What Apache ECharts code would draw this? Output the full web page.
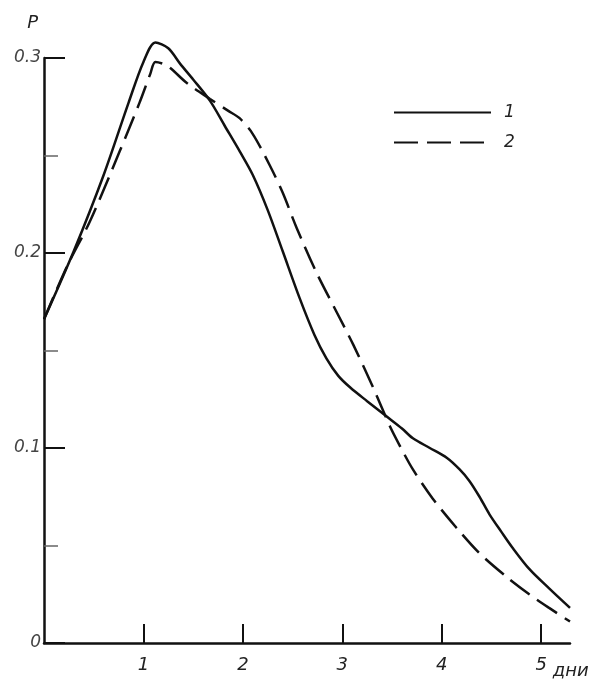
<!DOCTYPE html>
<html><head><meta charset="utf-8">
<script src="https://cdn.jsdelivr.net/npm/echarts@6/dist/echarts.min.js"></script>
<style>html,body{margin:0;padding:0;background:#fff}#c{width:599px;height:686px}</style>
</head><body><div id="c"></div>
<script>
// days (x) and probability P (y)
const curve1X = [0, 0.3, 0.6, 0.85, 1.0, 1.12, 1.25, 1.37, 1.5, 1.67, 1.82, 1.97, 2.1, 2.25, 2.4, 2.57, 2.72, 2.84, 2.96, 3.08, 3.25, 3.45, 3.6, 3.71, 3.88, 4.05, 4.18, 4.28, 4.38, 4.48, 4.6, 4.71, 4.88, 5.08, 5.29];
const curve1Y = [0.166, 0.201, 0.240, 0.277, 0.298, 0.308, 0.305, 0.297, 0.289, 0.278, 0.265, 0.252, 0.240, 0.222, 0.201, 0.177, 0.158, 0.146, 0.137, 0.131, 0.124, 0.116, 0.110, 0.105, 0.100, 0.095, 0.089, 0.083, 0.075, 0.066, 0.057, 0.049, 0.038, 0.028, 0.018];
const curve2X = [0, 0.23, 0.46, 0.76, 0.96, 1.07, 1.12, 1.24, 1.44, 1.67, 1.85, 1.97, 2.10, 2.27, 2.40, 2.54, 2.74, 2.94, 3.11, 3.31, 3.48, 3.58, 3.71, 3.91, 4.15, 4.38, 4.65, 4.88, 5.08, 5.29];
const curve2Y = [0.166, 0.193, 0.216, 0.252, 0.277, 0.292, 0.298, 0.296, 0.287, 0.279, 0.273, 0.269, 0.261, 0.245, 0.231, 0.213, 0.190, 0.170, 0.153, 0.131, 0.111, 0.101, 0.089, 0.074, 0.059, 0.046, 0.034, 0.025, 0.018, 0.011];
const xTickValues = [1, 2, 3, 4, 5];
const seriesNames = ['1', '2'];
const xAxisName = 'дни';
const yAxisName = 'P';

const zip = (xs, ys) => xs.map((x, i) => [x, ys[i]]);
const font = 'DejaVu Sans';
const chart = echarts.init(document.getElementById('c'), null, {renderer: 'canvas'});
chart.setOption({
  backgroundColor: '#fff',
  animation: false,
  grid: {left: 44, right: 29, top: 58, bottom: 43, outerBoundsMode: 'none', containLabel: false},
  legend: {
    orient: 'vertical', left: 388, top: 99, itemWidth: 97, itemHeight: 16, itemGap: 13,
    data: seriesNames,
    itemStyle: {opacity: 0},
    textStyle: {fontFamily: font, fontStyle: 'italic', fontSize: 17, color: '#222', padding: [0, 0, 0, 8]}
  },
  xAxis: {
    type: 'value', min: 0, max: 5.29, interval: 1,
    name: xAxisName, nameLocation: 'end', nameGap: -18,
    nameTextStyle: {fontFamily: font, fontStyle: 'italic', fontSize: 18, color: '#222', verticalAlign: 'top', padding: [19, 0, 0, 0]},
    axisLine: {lineStyle: {color: '#111', width: 2.5}},
    axisTick: {inside: true, length: 19, customValues: xTickValues, lineStyle: {color: '#111', width: 2}},
    axisLabel: {fontFamily: font, fontStyle: 'italic', fontSize: 18, color: '#222', margin: 13,
      customValues: xTickValues, hideOverlap: false, formatter: v => String(v)},
    splitLine: {show: false}
  },
  yAxis: {
    type: 'value', min: 0, max: 0.3, interval: 0.1,
    name: yAxisName, nameLocation: 'end', nameGap: 26,
    nameTextStyle: {fontFamily: font, fontStyle: 'italic', fontSize: 18, color: '#222', align: 'right', padding: [0, 6, 0, 0]},
    axisLine: {show: true, lineStyle: {color: '#111', width: 2.5}},
    axisTick: {show: true, inside: true, length: 21, lineStyle: {color: '#111', width: 2}},
    minorTick: {show: true, splitNumber: 2, length: 14, lineStyle: {color: '#666', width: 1.5}},
    axisLabel: {fontFamily: font, fontStyle: 'italic', fontSize: 17, color: '#444', margin: 3,
      formatter: v => v === 0 ? '0' : v.toFixed(1)},
    splitLine: {show: false}
  },
  series: [
    {name: seriesNames[0], type: 'line', data: zip(curve1X, curve1Y), smooth: 0.3, symbol: 'none', clip: false,
     lineStyle: {color: '#111', width: 2.5}, itemStyle: {color: '#111'}},
    {name: seriesNames[1], type: 'line', data: zip(curve2X, curve2Y), smooth: 0.3, symbol: 'none', clip: false,
     lineStyle: {color: '#111', width: 2.5, type: [24, 9]}, itemStyle: {color: '#111'}}
  ]
});
</script></body></html>
